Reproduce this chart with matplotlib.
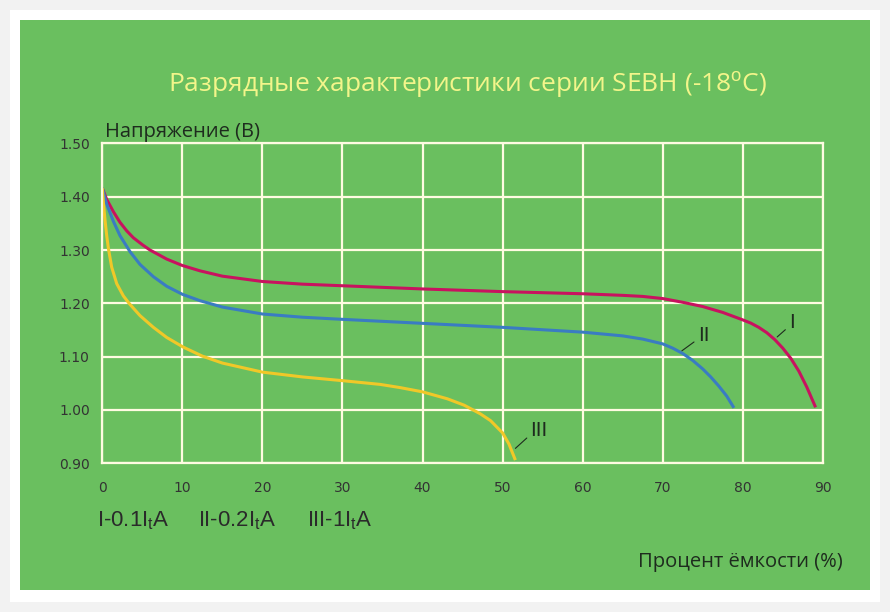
import matplotlib
matplotlib.use("Agg")
import matplotlib.pyplot as plt
from matplotlib.patches import Rectangle

plt.rcParams['mathtext.fontset'] = 'custom'
plt.rcParams['mathtext.rm'] = 'Liberation Sans'

# discharge curves, -18C
cap_I = [0, 0.55, 1.38, 2.21, 3.05, 3.88, 5, 5.96, 8.05, 10, 12.2, 15, 20, 25, 30, 40,
         50, 60, 65, 67.5, 70, 72.5, 75, 77.5, 80, 81, 82, 83, 84, 85, 86, 87, 88, 89.1]
volt_I = [1.416, 1.395, 1.372, 1.352, 1.336, 1.323, 1.310, 1.300, 1.283, 1.271, 1.261,
          1.251, 1.241, 1.236, 1.233, 1.227, 1.222, 1.218, 1.215, 1.213, 1.209, 1.202,
          1.194, 1.183, 1.169, 1.163, 1.155, 1.145, 1.132, 1.116, 1.097, 1.073, 1.043,
          1.005]

cap_II = [0, 0.55, 1.38, 2.21, 3.46, 4.71, 6.38, 8.05, 10, 12.2, 15, 20, 25, 30, 40,
          50, 60, 65, 67.5, 70, 71.25, 72.5, 73.75, 75, 76, 77, 78, 78.9]
volt_II = [1.416, 1.386, 1.354, 1.327, 1.297, 1.273, 1.250, 1.232, 1.217, 1.205, 1.193,
           1.180, 1.174, 1.170, 1.1625, 1.155, 1.146, 1.139, 1.133, 1.124, 1.116, 1.106,
           1.093, 1.077, 1.062, 1.045, 1.026, 1.004]

cap_III = [0, 0.13, 0.34, 0.55, 0.75, 1.17, 1.8, 2.63, 3.4, 4.71, 6.38, 8.05, 10.1,
           12.5, 15, 20, 25, 30, 34.7, 37.2, 40, 43.1, 45.2, 47.2, 48.5, 50, 50.8, 51.6]
volt_III = [1.416, 1.390, 1.356, 1.327, 1.304, 1.268, 1.237, 1.214, 1.199, 1.177, 1.155,
            1.136, 1.118, 1.101, 1.088, 1.071, 1.062, 1.055, 1.048, 1.042, 1.034,
            1.021, 1.009, 0.993, 0.980, 0.957, 0.936, 0.906]

curve_names = ['I', 'II', 'III']
colors = ['#c8125f', '#3a7cc2', '#f0c828']
legend_txt = ['I-0.1I$_\\mathrm{t}$A', 'II-0.2I$_\\mathrm{t}$A', 'III-1I$_\\mathrm{t}$A']

green = '#6abf5f'
grid_c = '#fffbe2'
dark = '#1e2b1e'

fig = plt.figure(figsize=(8.9, 6.12), dpi=100, facecolor='#f2f2f2')
W, H = 890, 612
fig.patches.append(Rectangle((10 / W, 10 / H), 870 / W, 592 / H, transform=fig.transFigure,
                             facecolor='white', edgecolor='none', zorder=-2))
fig.patches.append(Rectangle((20 / W, 22 / H), 850 / W, 570 / H, transform=fig.transFigure,
                             facecolor=green, edgecolor='none', zorder=-1))

ax = fig.add_axes([102.3 / W, 148.7 / H, 720.5 / W, 319.9 / H])
ax.set_zorder(1)
ax.set_facecolor(green)
ax.set_xlim(0, 90)
ax.set_ylim(0.9, 1.5)
ax.set_xticks(range(0, 91, 10))
ax.set_yticks([0.9, 1.0, 1.1, 1.2, 1.3, 1.4, 1.5])
ax.set_yticklabels(['%.2f' % v for v in ax.get_yticks()])
ax.grid(True, color=grid_c, lw=1.6)
ax.set_axisbelow(True)
for s in ax.spines.values():
    s.set_color(grid_c)
    s.set_linewidth(1.6)
ax.tick_params(length=0, labelsize=10, labelcolor='#333333')
ax.tick_params(axis='y', pad=9)
ax.tick_params(axis='x', pad=13)
for lab in ax.get_xticklabels() + ax.get_yticklabels():
    lab.set_family('DejaVu Sans')

ax.plot(cap_I, volt_I, color=colors[0], lw=2.2, solid_capstyle='butt', solid_joinstyle='round')
ax.plot(cap_II, volt_II, color=colors[1], lw=2.2, solid_capstyle='butt', solid_joinstyle='round')
ax.plot(cap_III, volt_III, color=colors[2], lw=2.2, solid_capstyle='butt', solid_joinstyle='round')

# curve labels with leader lines
ann = [((84.3, 1.137), (85.8, 1.164)),
       ((72.4, 1.111), (74.4, 1.140)),
       ((51.6, 0.928), (53.5, 0.961))]
for name, (p0, p1) in zip(curve_names, ann):
    ax.annotate(name, xy=p0, xytext=p1, ha='left', va='center', fontsize=15,
                family='Liberation Sans', color=dark,
                arrowprops=dict(arrowstyle='-', color=dark, lw=0.8,
                                relpos=(0, 0.3), shrinkA=1, shrinkB=0))

fig.text(468 / W, (H - 91.7) / H, 'Разрядные характеристики серии SEBH (-18$^\\mathrm{o}$C)',
         ha='center', va='baseline', fontsize=19, family='Open Sans', color='#f3f58a')
fig.text(105 / W, (H - 136.7) / H, 'Напряжение (В)', ha='left', va='baseline',
         fontsize=14.5, family='Open Sans', color=dark)
fig.text(843 / W, (H - 566.7) / H, 'Процент ёмкости (%)', ha='right', va='baseline',
         fontsize=14.5, family='Open Sans', color=dark)

for x0, t in zip([97, 198, 307], legend_txt):
    fig.text(x0 / W, (H - 526) / H, t, ha='left', va='baseline', fontsize=16,
             family='Liberation Sans', color='#2a2a2a')

fig.savefig('out.png', dpi=100, facecolor=fig.get_facecolor())
